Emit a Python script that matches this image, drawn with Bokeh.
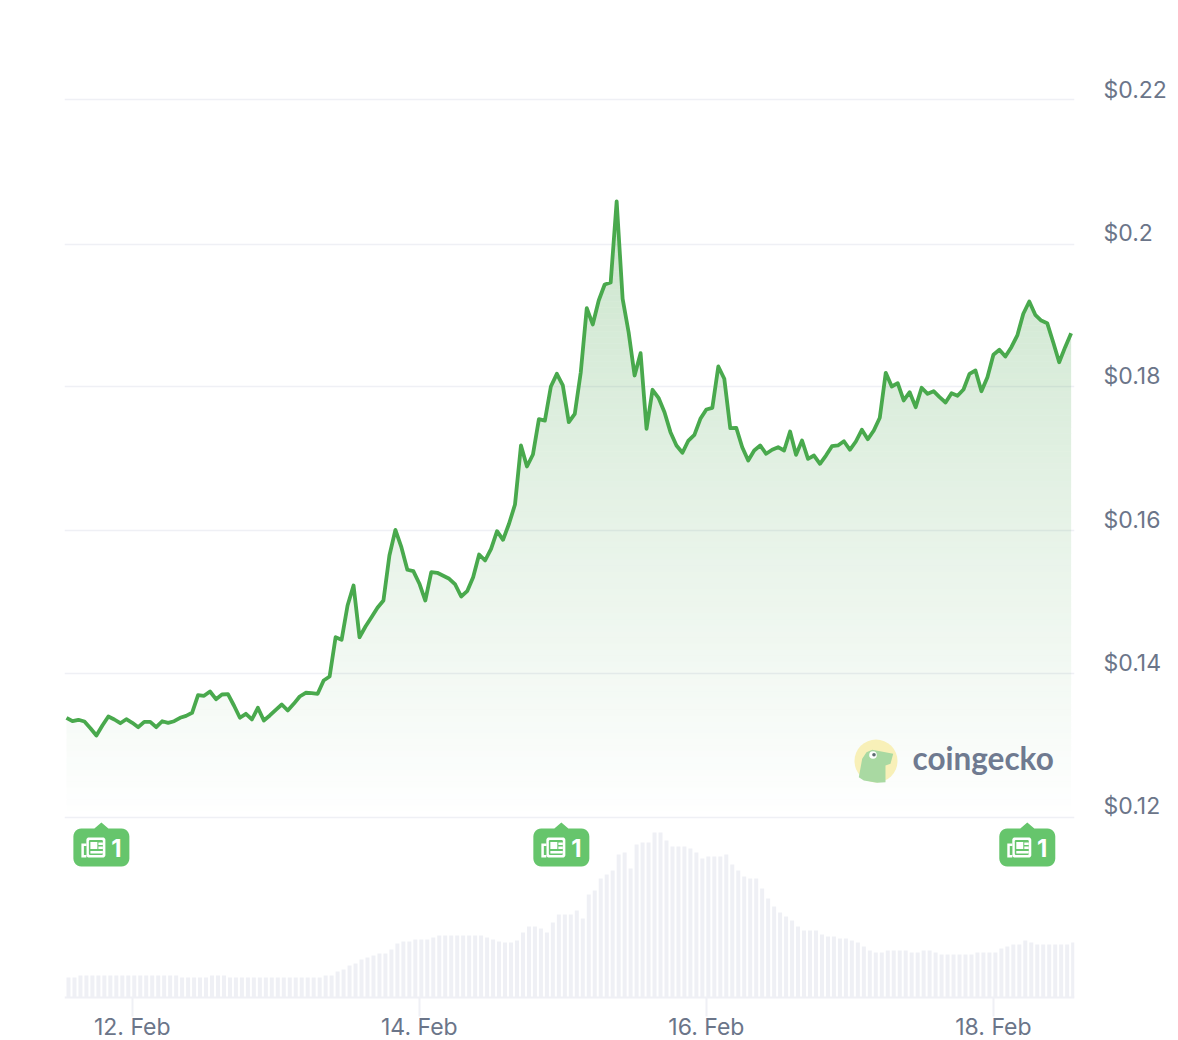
import numpy as np
import pandas as pd
from bokeh.core.properties import value
from bokeh.embed import file_html
from bokeh.models import (DatetimeAxis, DatetimeTickFormatter, FixedTicker, Grid, LinearAxis,
                          NumeralTickFormatter, Range1d)
from bokeh.plotting import figure
from bokeh.resources import INLINE

# ---- data ----
START = "2024-02-11 13:00"
prices = [
    .13388, .13340, .13360, .13336, .13243, .13141, .13280, .13406, .13364, .13312,
    .13368, .13318, .13257, .13332, .13332, .13257, .13340, .13318, .13340, .13388,
    .13415, .13457, .13702, .13694, .13754, .13647, .13712, .13716, .13559, .13388,
    .13443, .13364, .13527, .13350, .13420, .13499, .13573, .13489, .13582, .13684,
    .13736, .13730, .13722, .13907, .13962, .14509, .14473, .14951, .15229, .14509,
    .14658, .14788, .14919, .15020, .15647, .16004, .15762, .15448, .15428, .15257,
    .15020, .15414, .15406, .15364, .15322, .15243, .15076, .15150, .15345, .15660,
    .15577, .15740, .15985, .15865, .16088, .16356, .17178, .16885, .17052, .17544,
    .17525, .17999, .18175, .18013, .17502, .17619, .18198, .19088, .18862, .19196,
    .19418, .19446, .20574, .19219, .18754, .18152, .18462, .17410, .17953, .17841,
    .17641, .17363, .17178, .17076, .17247, .17326, .17549, .17679, .17702, .18277,
    .18106, .17418, .17424, .17154, .16969, .17108, .17178, .17062, .17118, .17154,
    .17108, .17372, .17048, .17247, .16992, .17038, .16923, .17038, .17168, .17178,
    .17237, .17118, .17233, .17396, .17265, .17386, .17563, .18189, .17999, .18045,
    .17804, .17919, .17711, .17981, .17897, .17933, .17850, .17776, .17905, .17869,
    .17957, .18175, .18221, .17933, .18128, .18440, .18509, .18416, .18546, .18709,
    .19011, .19182, .18997, .18917, .18880, .18615, .18337, .18546, .18741,
]
volumes = [
    20, 20, 22, 22, 22, 22, 22, 22, 22, 22, 22, 22, 22, 22, 22, 22, 22, 22, 22,
    20, 20, 20, 20, 20, 22, 22, 22, 20, 20, 20, 20, 20, 20, 20, 20, 20, 20, 20,
    20, 20, 20, 20, 20, 22, 22, 26, 28, 32, 34, 38, 40, 42, 44, 44, 48, 54, 56,
    56, 58, 58, 58, 60, 62, 62, 62, 62, 62, 62, 62, 62, 60, 58, 56,
    55, 55, 57, 65, 71, 71, 69, 65, 75, 83, 83, 83, 87, 79, 103, 107, 119, 123,
    127, 143, 145, 129, 153, 155, 155, 165, 165, 157, 151, 151, 151, 149, 145,
    139, 141, 141, 141, 143, 133, 127, 121, 119, 119, 109, 99, 91, 85,
    81, 77, 71, 67, 67, 67, 63, 61, 61, 59, 59, 57, 55, 51, 47, 45, 45, 47, 47,
    47, 47, 45, 45, 47, 47, 45, 43, 43, 43, 43, 43, 43, 45, 45, 45, 45, 49, 51,
    53, 53, 57, 55, 53, 53, 53, 53, 53, 53, 55,
]
price_ticks = [0.12, 0.14, 0.16, 0.18, 0.20, 0.22]
grid_levels = [0.12, 0.14, 0.16, 0.18, 0.19968, 0.22]
date_ticks = ["2024-02-12", "2024-02-14", "2024-02-16", "2024-02-18"]
news_times = ["2024-02-11 18:50", "2024-02-14 23:45", "2024-02-18 05:40"]
news_counts = ["1", "1", "1"]

# ---- styling ----
GREEN = "#49a94d"
AREA = "#3f9f45"
BADGE = "#66c56c"
GREY = "#6b7589"
RULE = "#eff0f5"
FONT = "Inter"

W, H = 1170, 1040
L, R, T, B = 64, 1074, 0, 1040         # plot frame in page pixels
LINE_X0 = 66                           # page x of the first price point
AXIS_Y = 997
PX_PER_HOUR = 5.98


def ms(t):
    return (pd.Timestamp(t) - pd.Timestamp("1970-01-01")) / pd.Timedelta("1ms")


HOUR = 3600000.0
t0 = ms(START)
x = t0 + np.arange(len(prices)) * HOUR
bar_x = x + HOUR / 3
x_start = t0 - (LINE_X0 - L) * HOUR / PX_PER_HOUR
x_end = x_start + (R - L) / PX_PER_HOUR * HOUR


def price_bounds(anchor_y, px_per_unit):
    return .12 - (B - anchor_y) / px_per_unit, .12 + (anchor_y - T) / px_per_unit


p_lo, p_hi = price_bounds(817, 7185.0)
lab_lo, lab_hi = price_bounds(805.5, 7160.0)

p = figure(width=W, height=H, output_backend="svg", toolbar_location=None,
           x_axis_location=None, y_axis_location=None,
           x_range=Range1d(x_start, x_end), y_range=Range1d(p_lo, p_hi),
           min_border_left=L, min_border_right=W - R,
           min_border_top=T, min_border_bottom=H - B,
           outline_line_color=None, background_fill_color="white",
           border_fill_color="white")
p.extra_y_ranges = {
    "labels": Range1d(lab_lo, lab_hi),
    "volume": Range1d(AXIS_Y - B, AXIS_Y - T),
    "pxy": Range1d(B, T),
}
p.extra_x_ranges = {"pxx": Range1d(L, R)}
p.grid.visible = False

p.add_layout(Grid(dimension=1, ticker=FixedTicker(ticks=grid_levels),
                  grid_line_color=RULE, grid_line_width=1.6))

# volume bars
p.vbar(x=bar_x, top=volumes, bottom=0, width=HOUR * 4 / PX_PER_HOUR, y_range_name="volume",
       fill_color=RULE, line_color=None)

# time axis, pinned inside the frame
ax = DatetimeAxis(fixed_location=AXIS_Y, y_range_name="pxy")
ax.ticker = FixedTicker(ticks=[ms(d) for d in date_ticks])
ax.formatter = DatetimeTickFormatter(days="%d. %b", months="%d. %b", hours="%d. %b")
ax.axis_line_color = RULE
ax.axis_line_width = 2
ax.major_tick_line_color = RULE
ax.major_tick_line_width = 2
ax.major_tick_in = 0
ax.major_tick_out = 19
ax.minor_tick_line_color = None
ax.major_label_standoff = -4
ax.major_label_text_font = FONT
ax.major_label_text_font_size = "23px"
ax.major_label_text_color = GREY
p.add_layout(ax, "below")

# price axis
pa = LinearAxis(y_range_name="labels", ticker=FixedTicker(ticks=price_ticks),
                formatter=NumeralTickFormatter(format="$0.[00]"))
pa.axis_line_color = None
pa.major_tick_line_color = None
pa.minor_tick_line_color = None
pa.major_tick_in = 0
pa.major_tick_out = 0
pa.major_label_standoff = 29
pa.major_label_text_font = FONT
pa.major_label_text_font_size = "23px"
pa.major_label_text_color = GREY
p.add_layout(pa, "right")

# vertical gradient under the line, in pixel-aligned bands
price_arr = np.array(prices)
top_px = 817 - (price_arr.max() - .12) * 7185.0
STEP_PX = 6
A_MAX = 0.27
band_px = np.arange(817, top_px - STEP_PX, -STEP_PX)
for lower_px in band_px:
    lo = .12 + (817 - lower_px) / 7185.0
    hi = lo + STEP_PX / 7185.0
    d = price_arr[1:] - price_arr[:-1]
    extra = []
    for lvl in (lo, hi):
        with np.errstate(divide="ignore", invalid="ignore"):
            f = (lvl - price_arr[:-1]) / d
        m = (f > 0) & (f < 1)
        extra.append(x[:-1][m] + f[m] * HOUR)
    xs = np.sort(np.concatenate([x] + extra))
    ys = np.interp(xs, x, price_arr)
    frac = (817 - (lower_px - STEP_PX / 2)) / (817 - 200.0)
    p.varea(x=xs, y1=np.minimum(ys, lo), y2=np.minimum(ys, hi),
            fill_color=AREA, fill_alpha=float(A_MAX * frac))

# price line
p.line(x=x, y=prices, line_color=GREEN, line_width=3.8, line_join="round")


def rounded_box(x0, y0, x1, y1, r, pointer=None):
    a = np.linspace(0, np.pi / 2, 7)
    xs, ys = [], []
    for cx, cy, start in ((x1 - r, y0 + r, -np.pi / 2), (x1 - r, y1 - r, 0),
                          (x0 + r, y1 - r, np.pi / 2), (x0 + r, y0 + r, np.pi)):
        xs += list(cx + r * np.cos(start + a))
        ys += list(cy + r * np.sin(start + a))
    if pointer is not None:
        xs += [pointer - 7, pointer, pointer + 7]
        ys += [y0, y0 - 6, y0]
    return xs, ys


def to_px(t):
    return L + (ms(t) - x_start) / (x_end - x_start) * (R - L)


PX = dict(x_range_name="pxx", y_range_name="pxy")

# news badges
for t, n in zip(news_times, news_counts):
    c = to_px(t)
    bx, by = rounded_box(c - 28, 828, c + 28, 866, 8, pointer=c)
    p.patch(bx, by, fill_color=BADGE, line_color=None, **PX)
    # newspaper icon
    px0, py0 = rounded_box(c - 15, 837, c + 4, 857, 2.5)
    p.patch(px0, py0, fill_color="white", line_color=None, **PX)
    px1, py1 = rounded_box(c - 12.5, 839.5, c + 1.5, 854.5, 1.2)
    p.patch(px1, py1, fill_color=BADGE, line_color=None, **PX)
    p.quad(left=[c - 20, c - 17.5, c - 11, c - 3, c - 3, c - 11],
           right=[c - 15, c - 15, c - 4, c + 1.5, c + 1.5, c + 1.5],
           top=[843, 845.5, 841.5, 842, 846, 850.5],
           bottom=[857, 854.5, 848.5, 844.5, 848.5, 853],
           fill_color=["white", BADGE, "white", "white", "white", "white"],
           line_color=None, **PX)
    p.text(x=[c + 15], y=[847], text=[n], text_color="white", text_font=value(FONT),
           text_font_style="bold", text_font_size="24px", text_align="center",
           text_baseline="middle", **PX)

# watermark
p.circle(x=[875.5], y=[760.5], radius=21.5, radius_units="screen",
         fill_color="#f8f0b8", line_color=None, **PX)
p.patch([858.3, 861.7, 866, 871.7, 892.7, 890, 885, 885, 876.7, 863.3],
        [776.7, 758.3, 751.7, 749.3, 753.3, 763.3, 765, 781.7, 782.3, 780],
        fill_color="#a9d9a2", line_color=None, **PX)
p.circle(x=[872.5], y=[754.5], radius=3.8, radius_units="screen",
         fill_color="white", line_color=None, **PX)
p.circle(x=[873.5], y=[754.2], radius=1.8, radius_units="screen",
         fill_color="#5c6b70", line_color=None, **PX)
p.text(x=[912], y=[757.5], text=["coingecko"], text_color="#6f7a90", text_font=value("Lato"),
       text_font_style="bold", text_font_size="31.5px", text_align="left",
       text_baseline="alphabetic", **PX)

open("out.html", "w").write(file_html(p, INLINE))
